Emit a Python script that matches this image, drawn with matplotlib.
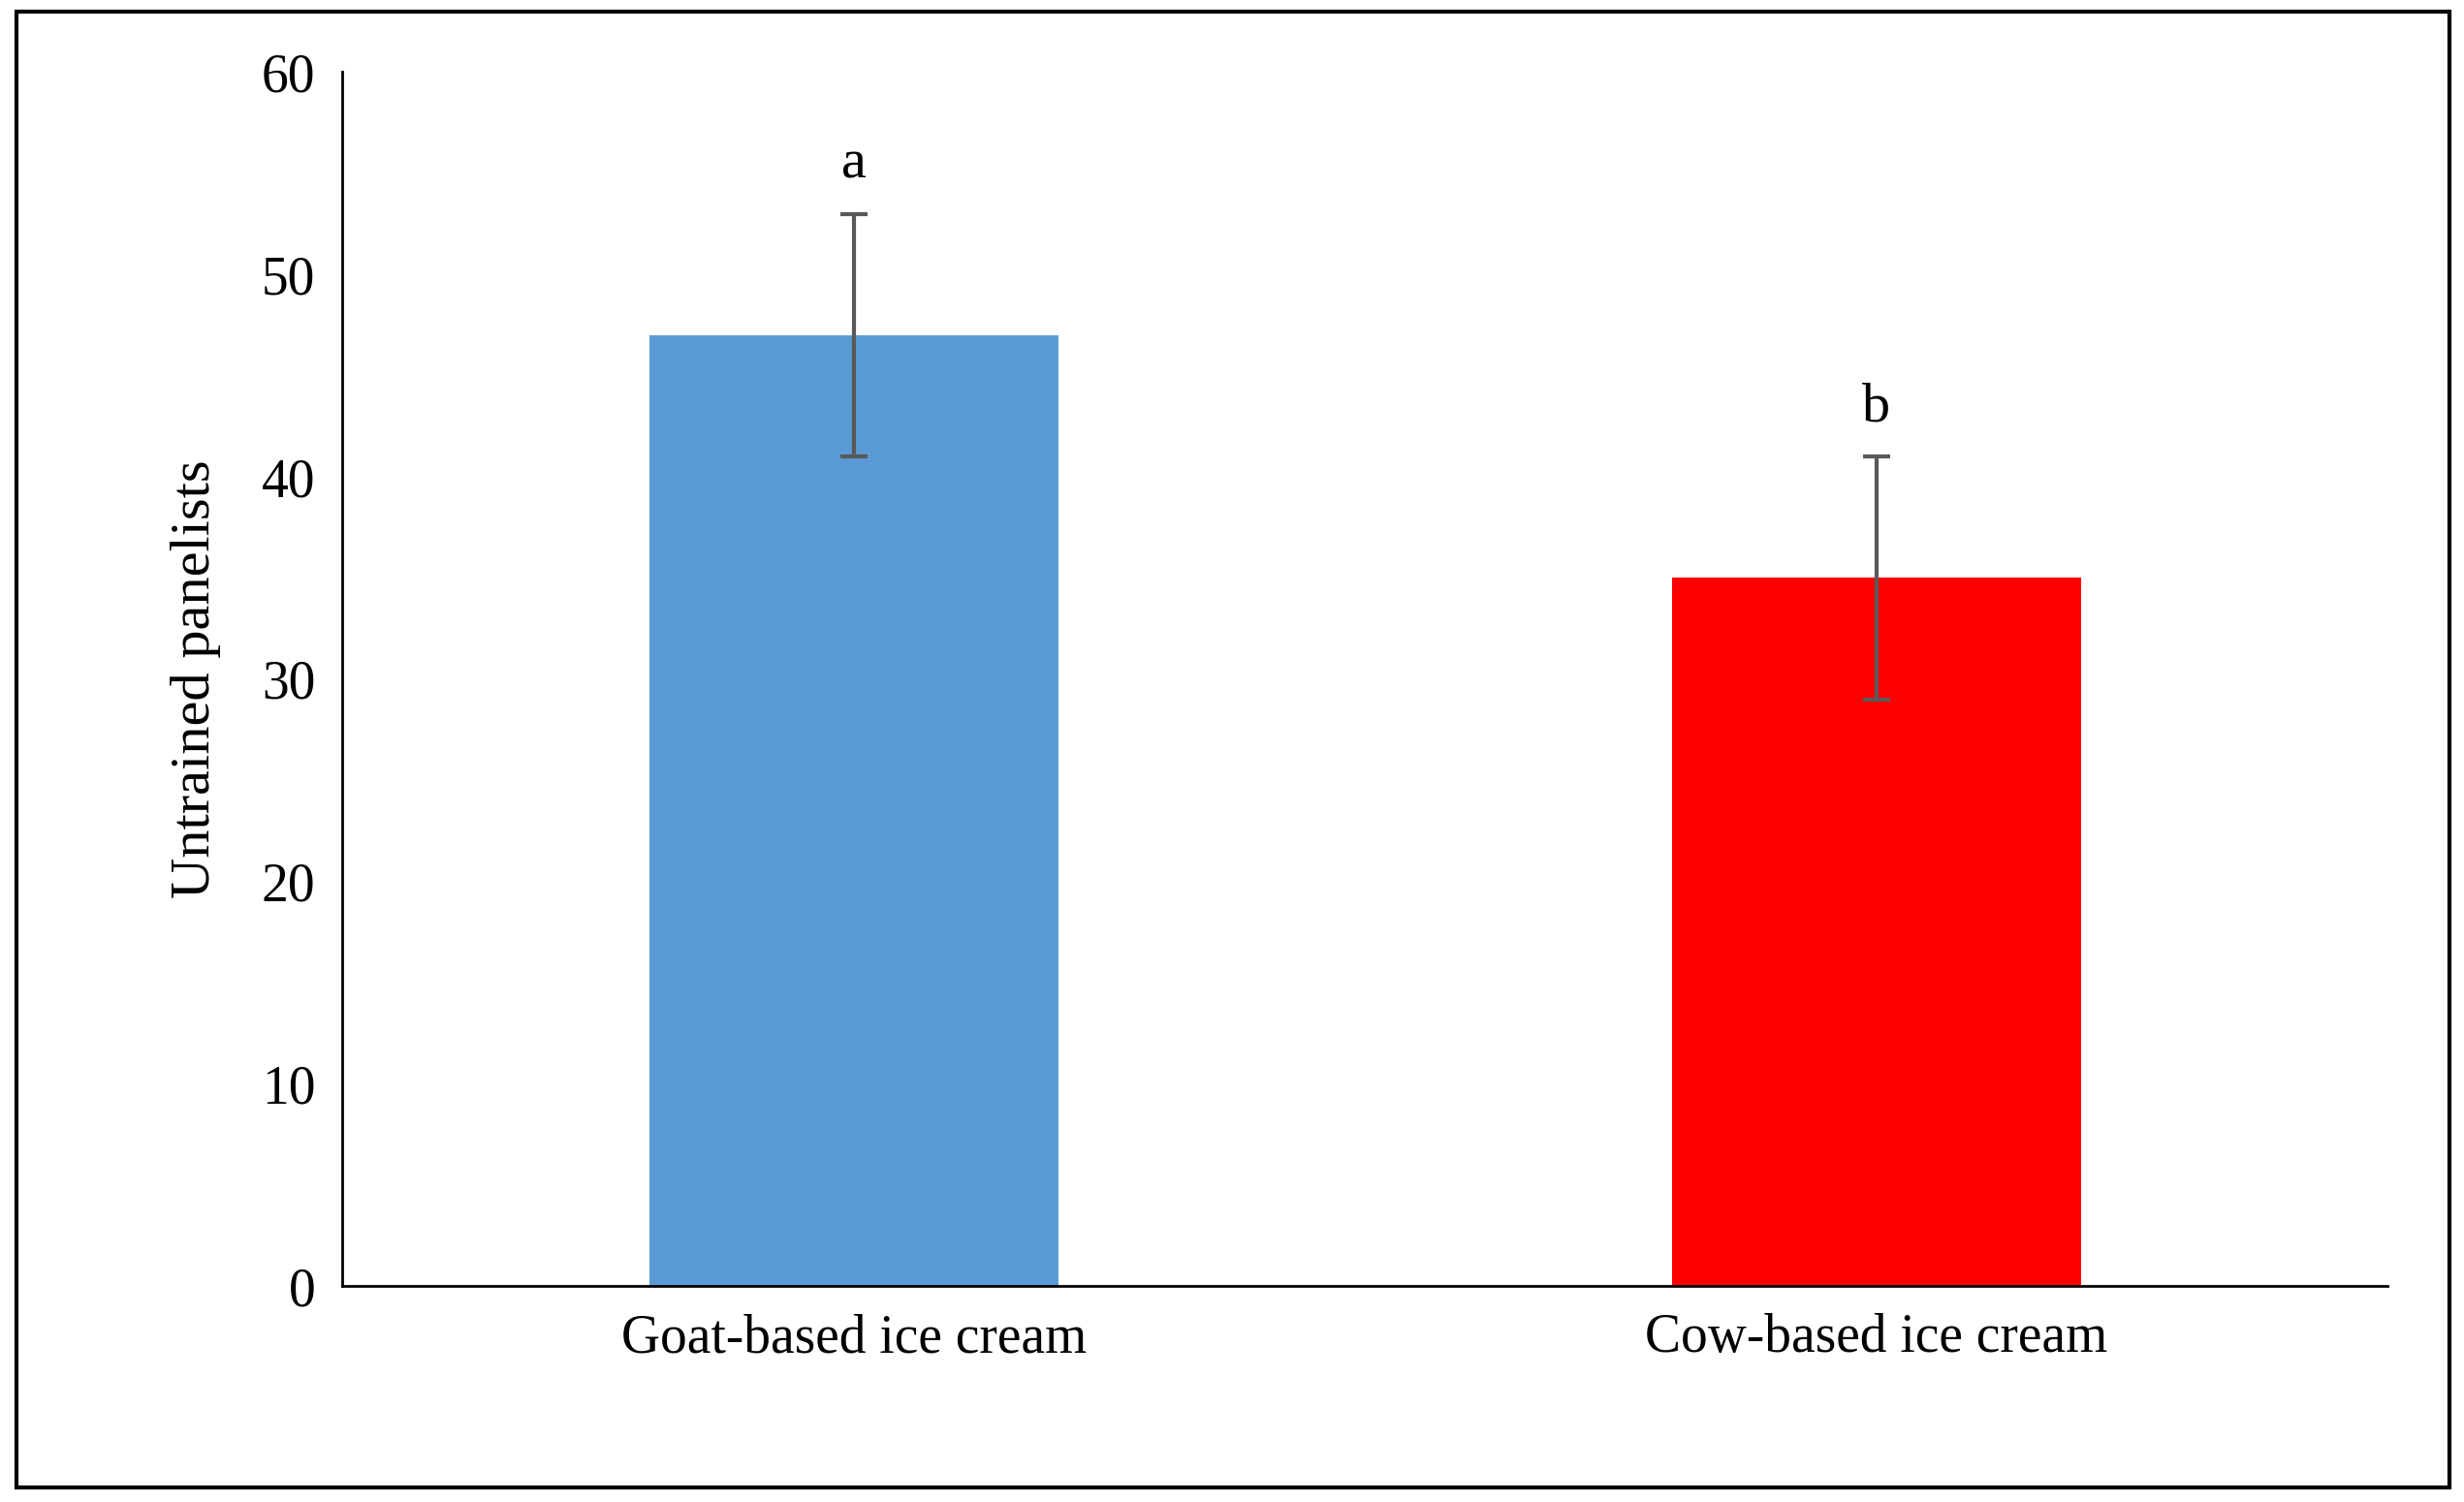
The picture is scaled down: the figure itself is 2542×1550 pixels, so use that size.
import matplotlib.pyplot as plt
from matplotlib.patches import Rectangle

categories = ["Goat-based ice cream", "Cow-based ice cream"]
values = [47, 35]
errors = [6, 6]
letters = ["a", "b"]
colors = ["#5b9bd5", "#ff0000"]

plt.rcParams["font.family"] = "Liberation Serif"

fig = plt.figure(figsize=(25.42, 15.5), dpi=100)
ax = fig.add_axes([0.139, 0.1436, 0.83, 0.8084])

x = list(range(len(categories)))
ax.bar(x, values, width=0.4, color=colors, zorder=2)
ax.errorbar(x, values, yerr=errors, fmt="none", ecolor="#595959",
            elinewidth=3, capsize=10, capthick=3, zorder=3)
for xi, v, e, lab in zip(x, values, errors, letters):
    ax.text(xi, v + e + 1.2, lab, ha="center", va="bottom", fontsize=42)

ax.set_xlim(-0.5, 1.5)
ax.set_ylim(0, 60)
ax.set_yticks(range(0, 61, 10))
ax.set_xticks(x)
ax.set_xticklabels(categories)
ax.tick_params(axis="both", length=0, labelsize=40, pad=20)
ax.set_ylabel("Untrained panelists", fontsize=42, labelpad=30)
for s in ["top", "right"]:
    ax.spines[s].set_visible(False)
for s in ["left", "bottom"]:
    ax.spines[s].set_linewidth(2)

# outer frame
fig.patches.append(Rectangle((0.0065, 0.01), 0.9875, 0.982, transform=fig.transFigure,
                             fill=False, edgecolor="black", linewidth=3))

fig.savefig("out.png", dpi=100)
